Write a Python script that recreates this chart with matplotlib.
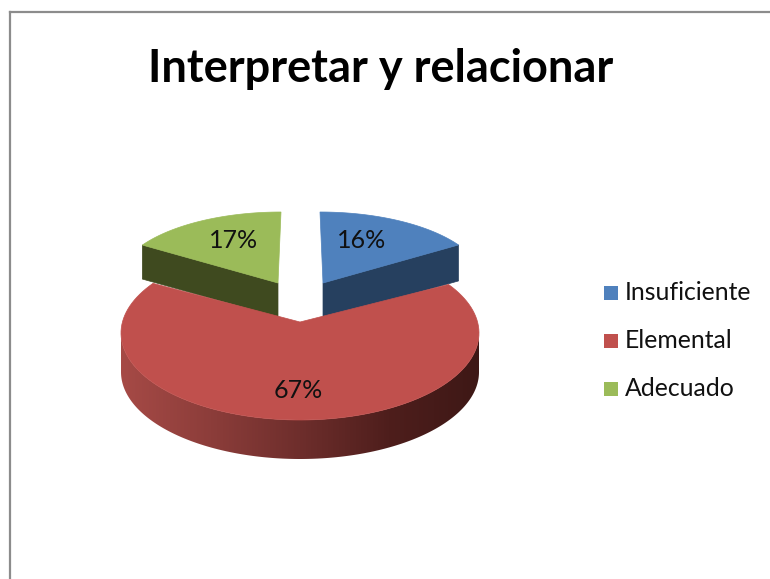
import numpy as np
import matplotlib
matplotlib.use('Agg')
import matplotlib.pyplot as plt
from matplotlib.colors import LinearSegmentedColormap
from matplotlib.patches import Rectangle

categories = ['Insuficiente', 'Elemental', 'Adecuado']
shares = [16, 67, 17]
title = 'Interpretar y relacionar'

plt.rcParams['font.family'] = ['Lato', 'DejaVu Sans']

colors = ['#4F81BD', '#C0504D', '#9BBB59']
wall_colors = ['#26405F', None, '#3F4A1F']

# the 3D view bends the angles a bit, degrees added to start/end of each slice
bend = [(0, 0), (-1.5, 6), (3.5, 0)]
# pixel geometry of each slice
centers = [(320, 283), (300, 333), (281, 283)]
apexes = [(323, 283), (300, 322), (278, 283)]
radii = [(164, 71), (179, 87), (164, 71)]
depths = [36, 39, 34]
label_pos = [(362, 240), (298, 390), (234, 240)]
legend_y = [293, 341, 389]

fig = plt.figure(figsize=(7.7, 5.79), dpi=100)
ax = fig.add_axes([0, 0, 1, 1])
ax.set_xlim(0, 770)
ax.set_ylim(579, 0)
ax.axis('off')

# chart frame, runs off the right and bottom edges
ax.plot([9.5, 9.5], [579, 11.5], color='#8c8c8c', lw=1.6)
ax.plot([9.5, 770], [11.5, 11.5], color='#8c8c8c', lw=1.6)


def arc(i, t0, t1, n=120):
    t = np.radians(np.linspace(t0, t1, n))
    cx, cy = centers[i]
    rx, ry = radii[i]
    return cx + rx * np.sin(t), cy - ry * np.cos(t)


edges = np.cumsum([0] + shares) * 3.6
red_wall = LinearSegmentedColormap.from_list(
    'red_wall', ['#A64A46', '#8C3D3A', '#6E2E2C', '#4E1E1C', '#3E1816'])

for i in [0, 2, 1]:
    t0 = edges[i] + bend[i][0]
    t1 = edges[i + 1] + bend[i][1]
    x, y = arc(i, t0, t1)
    ax_, ay_ = apexes[i]
    d = depths[i]

    if i == 1:
        # outer wall, a gradient image clipped to the wall shape
        wx, wy = arc(i, 90, 270, 240)
        img = ax.imshow(np.linspace(0, 1, 256).reshape(1, -1), cmap=red_wall, aspect='auto',
                        extent=(wx.min(), wx.max(), wy.max() + d, wy.min()))
        shape = ax.fill(np.r_[wx, wx[::-1]], np.r_[wy, wy[::-1] + d], facecolor='none', edgecolor='none')[0]
        img.set_clip_path(shape)
        ax.set_xlim(0, 770)
        ax.set_ylim(579, 0)
    else:
        # cut face looking at the viewer
        j = -1 if i == 0 else 0
        ax.fill([ax_, x[j], x[j], ax_], [ay_, y[j], y[j] + d, ay_ + d],
                facecolor=wall_colors[i], edgecolor=wall_colors[i], lw=0.5)

    ax.fill(np.r_[ax_, x], np.r_[ay_, y], facecolor=colors[i], edgecolor=colors[i], lw=0.5, zorder=3)

for (lx, ly), v in zip(label_pos, shares):
    ax.text(lx, ly, f'{v}%', fontsize=18, color='#111111', ha='center', va='center', zorder=4)

ax.text(380.5, 82, title, fontsize=32.5, fontweight='bold', color='black', ha='center', va='baseline')

for name, c, ly in zip(categories, colors, legend_y):
    ax.add_patch(Rectangle((604, ly - 7), 14, 14, facecolor=c, edgecolor='none'))
    ax.text(625, ly, name, fontsize=17.8, color='#111111', ha='left', va='center')

fig.savefig('out.png', dpi=100)
